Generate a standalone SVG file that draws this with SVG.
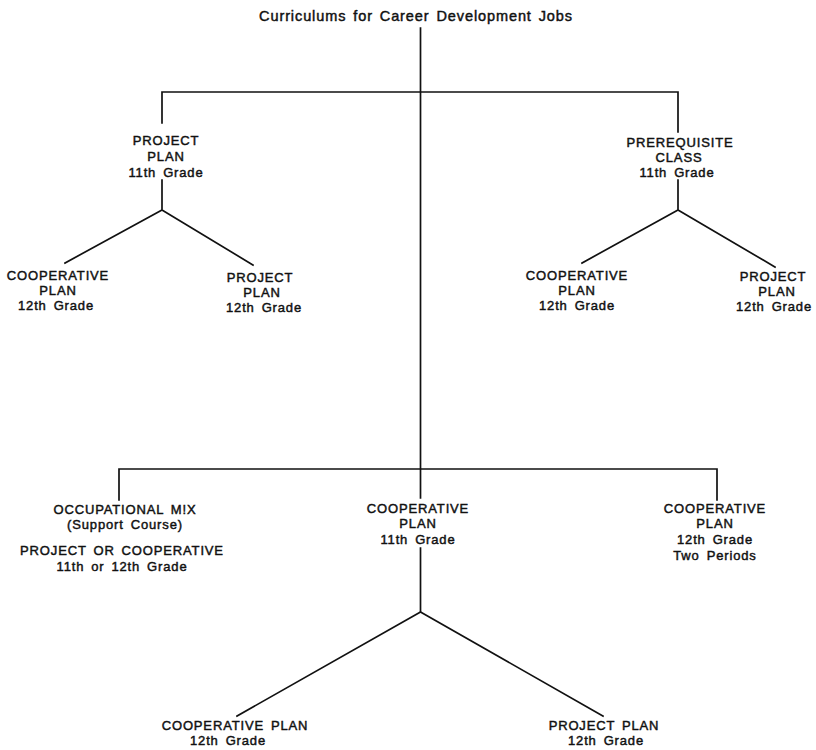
<svg xmlns="http://www.w3.org/2000/svg" width="816" height="750" viewBox="0 0 816 750">
  <style>
    .bg { fill: #ffffff; }
    .ln { fill: none; stroke: #111; stroke-width: 1.7; stroke-linecap: square; stroke-linejoin: miter; }
    text { font-family: "Liberation Sans", Arial, Helvetica, sans-serif; fill: #111; stroke: #111; stroke-width: 0.45; text-anchor: middle; }
    .lbl { font-size: 13px; letter-spacing: 0.85px; word-spacing: 2.5px; }
    .ttl { font-size: 14.5px; letter-spacing: 0.9px; word-spacing: 2px; }
  </style>
  <rect class="bg" width="816" height="750"/>

  <!-- connectors -->
  <g id="connectors">
    <!-- trunk -->
    <path class="ln" d="M420.5,28 V498 M420.5,548 V612"/>
    <!-- upper bar and drops -->
    <path class="ln" d="M162,123 V92 H678 V132"/>
    <!-- left upper fork -->
    <path class="ln" d="M162,180 V210 M65,263 L162,210 L253,265"/>
    <!-- right upper fork -->
    <path class="ln" d="M678,180 V210 M582,263 L678,210 L775,267"/>
    <!-- lower bar and drops -->
    <path class="ln" d="M119,500 V469 H717 V500"/>
    <!-- lower fork -->
    <path class="ln" d="M237,716 L420.5,612 L603,716"/>
  </g>

  <g id="title">
    <text class="ttl" x="416" y="21">Curriculums for Career Development Jobs</text>
  </g>

  <g id="project-plan-11">
    <text class="lbl" x="166" y="145">PROJECT</text>
    <text class="lbl" x="166" y="161">PLAN</text>
    <text class="lbl" x="166" y="177">11th Grade</text>
  </g>

  <g id="prerequisite-class-11">
    <text class="lbl" x="680" y="147">PREREQUISITE</text>
    <text class="lbl" x="679" y="162">CLASS</text>
    <text class="lbl" x="677" y="177">11th Grade</text>
  </g>

  <g id="left-cooperative-12">
    <text class="lbl" x="58" y="280">COOPERATIVE</text>
    <text class="lbl" x="58" y="295">PLAN</text>
    <text class="lbl" x="56" y="310">12th Grade</text>
  </g>

  <g id="left-project-12">
    <text class="lbl" x="260" y="282">PROJECT</text>
    <text class="lbl" x="262" y="297">PLAN</text>
    <text class="lbl" x="264" y="312">12th Grade</text>
  </g>

  <g id="right-cooperative-12">
    <text class="lbl" x="577" y="280">COOPERATIVE</text>
    <text class="lbl" x="577" y="295">PLAN</text>
    <text class="lbl" x="577" y="310">12th Grade</text>
  </g>

  <g id="right-project-12">
    <text class="lbl" x="773" y="281">PROJECT</text>
    <text class="lbl" x="777" y="296">PLAN</text>
    <text class="lbl" x="774" y="311">12th Grade</text>
  </g>

  <g id="occupational-mix">
    <text class="lbl" x="125" y="514">OCCUPATIONAL M!X</text>
    <text class="lbl" x="125" y="529">(Support Course)</text>
    <text class="lbl" x="122" y="555">PROJECT OR COOPERATIVE</text>
    <text class="lbl" x="122" y="571">11th or 12th Grade</text>
  </g>

  <g id="cooperative-plan-11">
    <text class="lbl" x="418" y="513">COOPERATIVE</text>
    <text class="lbl" x="418" y="528">PLAN</text>
    <text class="lbl" x="418" y="544">11th Grade</text>
  </g>

  <g id="cooperative-plan-12-two">
    <text class="lbl" x="715" y="513">COOPERATIVE</text>
    <text class="lbl" x="715" y="528">PLAN</text>
    <text class="lbl" x="715" y="544">12th Grade</text>
    <text class="lbl" x="715" y="560">Two Periods</text>
  </g>

  <g id="bottom-cooperative-12">
    <text class="lbl" x="235" y="730">COOPERATIVE PLAN</text>
    <text class="lbl" x="228" y="745">12th Grade</text>
  </g>

  <g id="bottom-project-12">
    <text class="lbl" x="604" y="730">PROJECT PLAN</text>
    <text class="lbl" x="606" y="745">12th Grade</text>
  </g>
</svg>
